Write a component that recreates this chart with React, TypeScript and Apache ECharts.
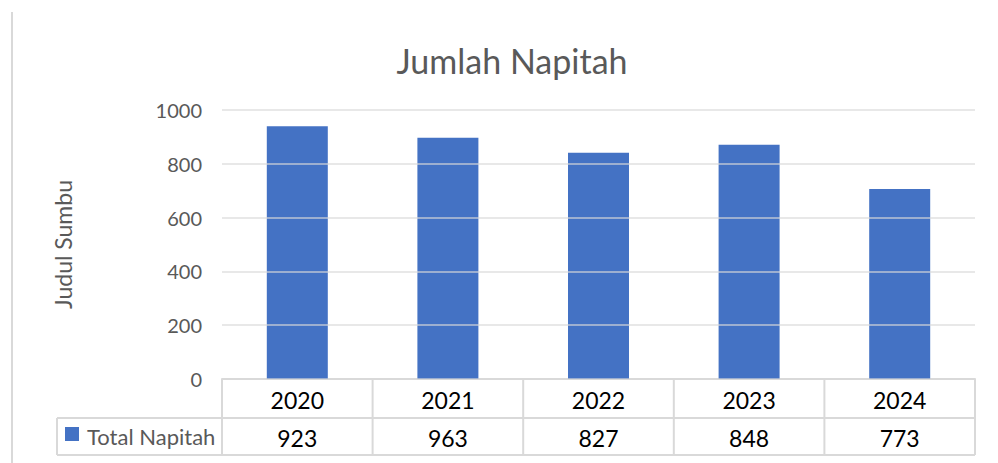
import React, { useEffect, useRef } from "react";
import * as echarts from "echarts";

const categories = ["2020", "2021", "2022", "2023", "2024"];
const barValues = [940, 897, 841, 871, 706];
const tableValues = [923, 963, 827, 848, 773];
const seriesName = "Total Napitah";
const titleText = "Jumlah Napitah";
const yAxisTitle = "Judul Sumbu";
const yTicks = { min: 0, max: 1000, interval: 200 };

const W = 998;
const H = 463;
const GRID_L = 222;
const GRID_R = 23;
const GRID_T = 110;
const GRID_B = 84;
const FONT = "Lato, 'Liberation Sans', sans-serif";
const LINE = "#d9d9d9";

export default function App() {
  const ref = useRef<HTMLDivElement>(null);
  useEffect(() => {
    document.body.style.margin = "0";
    const chart = echarts.init(ref.current!, undefined, { renderer: "svg" });
    const plotW = W - GRID_L - GRID_R;
    const axisY = H - GRID_B;
    const colW = plotW / categories.length;
    const row1B = 418;
    const row2B = 455;
    const legendL = 57;
    const lineStyle = { stroke: LINE, lineWidth: 2 };
    const graphics: any[] = [];
    graphics.push({ type: "line", shape: { x1: 12, y1: 12, x2: 12, y2: H }, style: lineStyle });
    graphics.push({ type: "line", shape: { x1: legendL, y1: row1B, x2: W - GRID_R, y2: row1B }, style: lineStyle });
    graphics.push({ type: "line", shape: { x1: legendL, y1: row2B, x2: W - GRID_R, y2: row2B }, style: lineStyle });
    graphics.push({ type: "line", shape: { x1: legendL, y1: row1B, x2: legendL, y2: row2B }, style: lineStyle });
    for (let i = 0; i <= categories.length; i++) {
      const x = GRID_L + i * colW;
      graphics.push({ type: "line", shape: { x1: x, y1: axisY, x2: x, y2: row2B }, style: lineStyle });
    }
    categories.forEach((c, i) => {
      const cx = GRID_L + (i + 0.5) * colW;
      graphics.push({
        type: "text",
        x: cx,
        y: (axisY + row1B) / 2 + 1,
        style: { text: c, fill: "#000", font: `23px ${FONT}`, textAlign: "center", textVerticalAlign: "middle" },
      });
      graphics.push({
        type: "text",
        x: cx,
        y: (row1B + row2B) / 2 + 1,
        style: { text: String(tableValues[i]), fill: "#000", font: `23px ${FONT}`, textAlign: "center", textVerticalAlign: "middle" },
      });
    });
    graphics.push({ type: "rect", shape: { x: 65, y: 427, width: 14, height: 14 }, style: { fill: "#4472C4" } });
    graphics.push({
      type: "text",
      x: 87,
      y: 436,
      style: { text: seriesName, fill: "#595959", font: `22px ${FONT}`, textAlign: "left", textVerticalAlign: "middle" },
    });

    chart.setOption({
      animation: false,
      title: {
        text: titleText,
        left: 507,
        top: 38,
        textAlign: "center",
        textStyle: { color: "#595959", fontSize: 34, fontWeight: "normal", fontFamily: FONT },
      },
      grid: { left: GRID_L, right: GRID_R, top: GRID_T, bottom: GRID_B },
      xAxis: {
        type: "category",
        data: categories,
        axisLine: { show: true, lineStyle: { color: LINE, width: 2 } },
        axisTick: { show: false },
        axisLabel: { show: false },
      },
      yAxis: {
        type: "value",
        min: yTicks.min,
        max: yTicks.max,
        interval: yTicks.interval,
        z: 5,
        name: yAxisTitle,
        nameLocation: "middle",
        nameGap: 148,
        nameRotate: 90,
        nameTextStyle: { color: "#595959", fontSize: 23, fontFamily: FONT },
        axisLine: { show: false },
        axisTick: { show: false },
        axisLabel: { color: "#595959", fontSize: 20, fontFamily: FONT, margin: 20, formatter: (v: number) => String(v) },
        splitLine: { show: true, lineStyle: { color: "rgba(217,217,217,0.8)", width: 1.5 } },
      },
      series: [
        {
          type: "bar",
          name: seriesName,
          data: barValues,
          barWidth: 61,
          itemStyle: { color: "#4472C4" },
          z: 2,
        },
      ],
      graphic: graphics,
    });
    return () => chart.dispose();
  }, []);
  return <div ref={ref} style={{ width: W, height: H }} />;
}
